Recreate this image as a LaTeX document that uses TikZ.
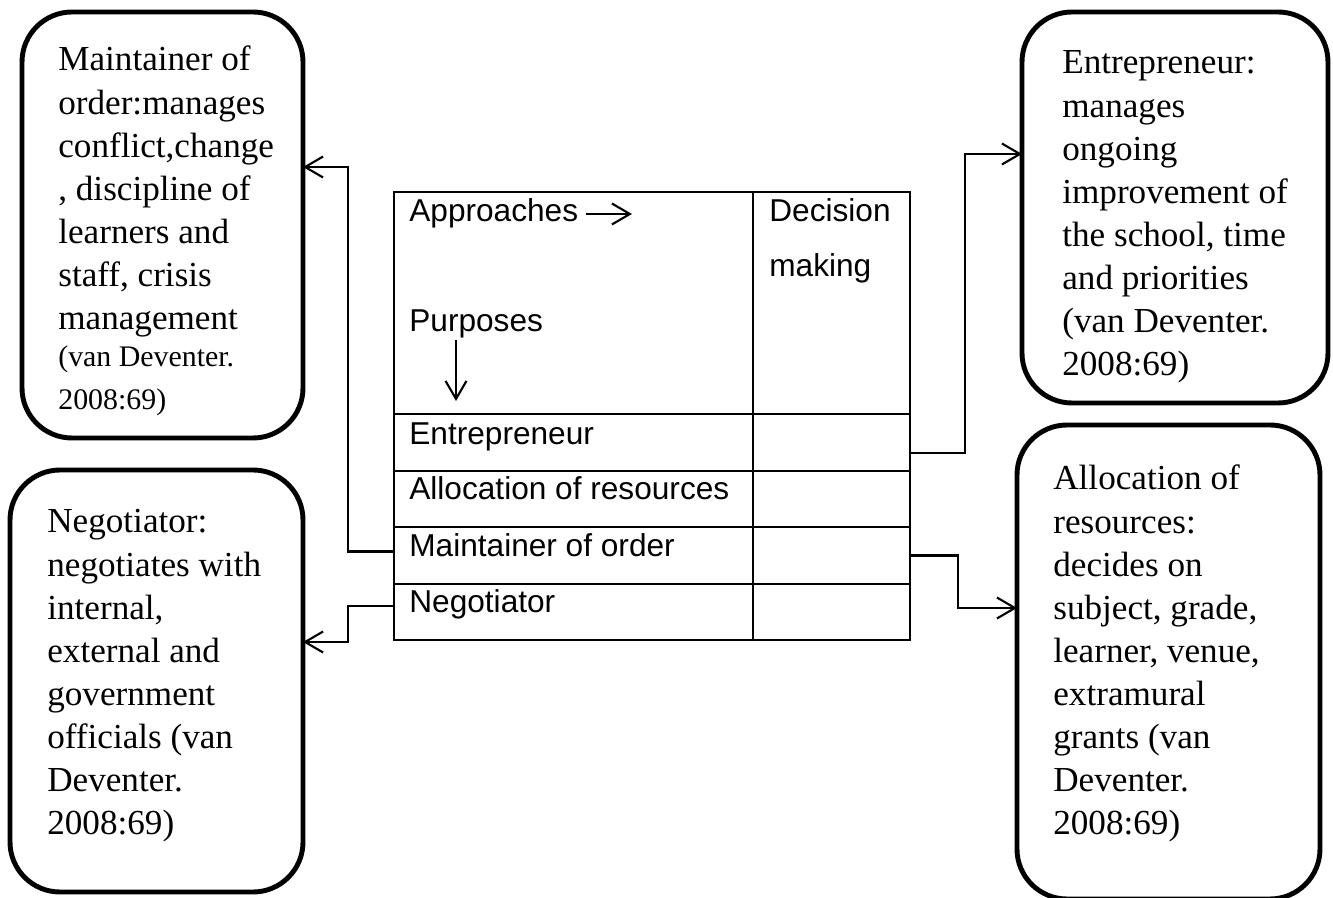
\documentclass[tikz,border=0pt]{standalone}
\usepackage{fontspec}
\setmainfont{Liberation Serif}
\newfontfamily\tabfont{Liberation Sans}
\usepackage{tikz}
\usetikzlibrary{arrows.meta}
\usetikzlibrary{fit}

\tikzset{
  rolebox/.style={draw, line width=2.8pt, rounded corners=1cm, inner sep=0pt, outer sep=0pt},
  roletext/.style={anchor=base west, inner sep=0pt, text width=6cm, align=flush left,
    font=\fontsize{20}{24.5}\selectfont},
  cell/.style={draw, line width=1.2pt, inner sep=0pt, outer sep=0pt},
  celltext/.style={anchor=base west, inner sep=0pt, font=\tabfont\fontsize{18}{22}\selectfont},
  conn/.style={line width=1.2pt, >={Straight Barb[length=0.36cm, width=0.42cm]}},
}

\begin{document}
\begin{tikzpicture}[x=0.02cm, y=-0.02cm]
\useasboundingbox (0,0) rectangle (1333,898);
\clip (0,0) rectangle (1333,898);

% the four role boxes
\node[rolebox, fit={(22,12) (303,438)}] (maint) {};
\node[rolebox, fit={(1022,12) (1328,403)}] (entre) {};
\node[rolebox, fit={(10,470) (303,892)}] (negot) {};
\node[rolebox, fit={(1017,425) (1320,899)}] (alloc) {};

\node[roletext] (tmaint) at (58,71) {Maintainer of\\ order:manages\\ conflict,change\\ , discipline of\\ learners and\\ staff, crisis\\ management\par
  \fontsize{17}{21}\selectfont (van Deventer.\\ 2008:69)};
\node[roletext] (tentre) at (1062,74) {Entrepreneur:\\ manages\\ ongoing\\ improvement of\\ the school, time\\ and priorities\\ (van Deventer.\\ 2008:69)};
\node[roletext] (tnegot) at (47,533) {Negotiator:\\ negotiates with\\ internal,\\ external and\\ government\\ officials (van\\ Deventer.\\ 2008:69)};
\node[roletext] (talloc) at (1053,490) {Allocation of\\ resources:\\ decides on\\ subject, grade,\\ learner, venue,\\ extramural\\ grants (van\\ Deventer.\\ 2008:69)};

% the table
\node[cell, fit={(394,192) (753,414)}] (phead) {};
\node[cell, fit={(753,192) (910,414)}] (dhead) {};
\node[cell, fit={(394,414) (753,471)}] (pent) {};
\node[cell, fit={(753,414) (910,471)}] (dent) {};
\node[cell, fit={(394,471) (753,527)}] (palloc) {};
\node[cell, fit={(753,471) (910,527)}] (dalloc) {};
\node[cell, fit={(394,527) (753,584)}] (pmaint) {};
\node[cell, fit={(753,527) (910,584)}] (dmaint) {};
\node[cell, fit={(394,584) (753,640)}] (pneg) {};
\node[cell, fit={(753,584) (910,640)}] (dneg) {};

\node[celltext] (tappr) at (409,222) {Approaches};
\node[celltext] (tpurp) at (409,332) {Purposes};
\node[celltext, text width=3cm, align=flush left, font=\tabfont\fontsize{18}{31}\selectfont] (tdec) at (769,222) {Decision\\ making};
\node[celltext] (tent) at (409,445) {Entrepreneur};
\node[celltext] (talc) at (409,500) {Allocation of resources};
\node[celltext] (tmao) at (409,557) {Maintainer of order};
\node[celltext] (tneg) at (409,613) {Negotiator};

\coordinate (apA) at (586,214); \coordinate (apB) at (632,214);
\coordinate (puA) at (456,340); \coordinate (puB) at (456,401);
\draw[conn, ->] (apA) -- (apB);
\draw[conn, ->] (puA) -- (puB);

% connectors to the boxes
\draw[conn, ->] ([yshift=0.08cm]pmaint.west) -- ++(-46,0) |- (maint.east |- 0,167);
\draw[conn, ->] ([yshift=0.12cm]pneg.west) -- ++(-46,0) |- (negot.east |- 0,642);
\draw[conn, ->] ([yshift=-0.21cm]dent.east) -- ++(55,0) |- (entre.west |- 0,154);
\draw[conn, ->] (dmaint.east) -- ++(48,0) |- (alloc.west |- 0,608);

\end{tikzpicture}
\end{document}
